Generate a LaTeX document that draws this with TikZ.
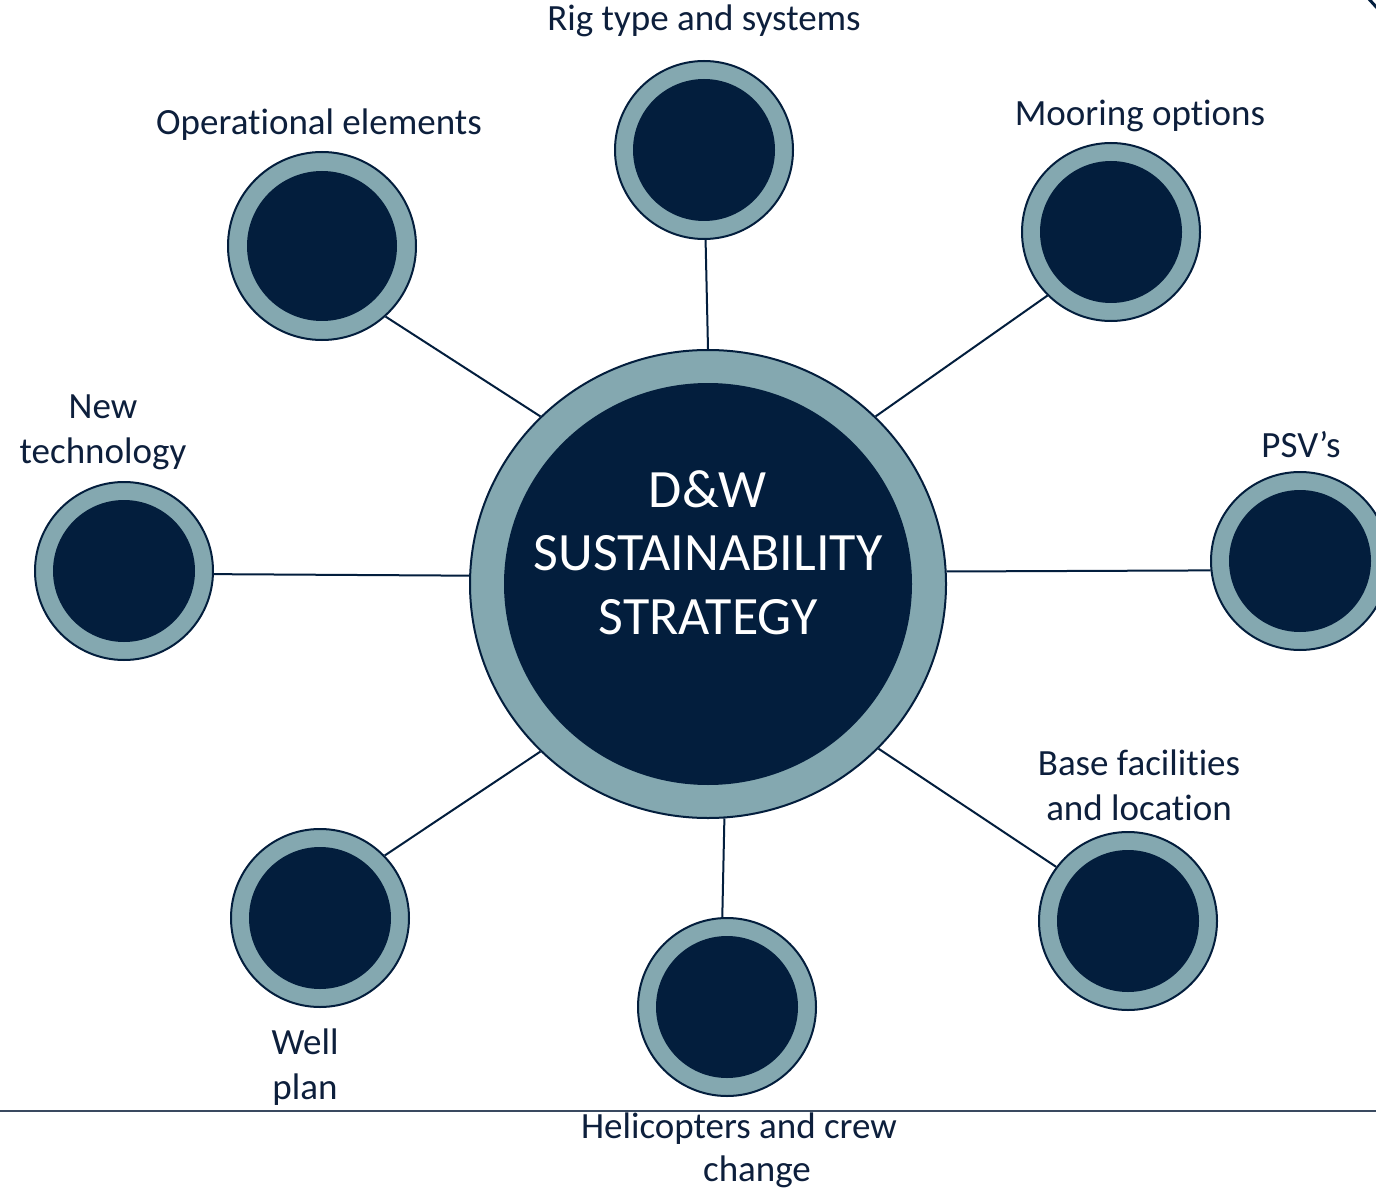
\documentclass[tikz,border=0pt]{standalone}
\usepackage{fontspec}
\setmainfont{Carlito}[Ligatures=NoCommon]
\usetikzlibrary{shapes.geometric}
\definecolor{navyc}{HTML}{031E3D}
\definecolor{ringc}{HTML}{84A8B0}
\definecolor{txtc}{HTML}{0D1F3C}
\definecolor{rulec}{HTML}{3A4A60}
\begin{document}
\begin{tikzpicture}[x=1pt,y=-1pt,
  hub/.style={circle, fill=ringc, draw=navyc, line width=2pt, minimum size=178pt, inner sep=0pt,
    path picture={\fill[navyc] (path picture bounding box.center) circle (71pt);}},
  bighub/.style={circle, fill=ringc, draw=navyc, line width=2pt, minimum size=188pt, inner sep=0pt,
    path picture={\fill[navyc] (path picture bounding box.center) circle (75pt);}},
  lbl/.style={font=\fontsize{37}{45}\selectfont, text=txtc, inner sep=0pt, anchor=base},
  ttl/.style={font=\fontsize{54}{64}\selectfont, text=white, inner sep=0pt, anchor=base},
  link/.style={draw=navyc, line width=2pt}]
\clip (0,0) rectangle (1376,1190);
\fill[white] (0,0) rectangle (1376,1190);

% core
\node[ellipse, fill=ringc, draw=navyc, line width=2pt, minimum width=476pt, minimum height=468pt, inner sep=0pt,
  path picture={\fill[navyc] (path picture bounding box.center) ellipse [x radius=204pt, y radius=201pt];}]
  (core) at (708,584) {};
\node[ttl] (t1) at (708,507) {D\&W};
\node[ttl] (t2) at (708,570) {SUSTAINABILITY};
\node[ttl] (t3) at (708,634) {STRATEGY};

% satellites
\node[hub] (rig) at (704,150) {};
\node[bighub] (op) at (322,246) {};
\node[hub] (moor) at (1111,232) {};
\node[hub] (newt) at (124,571) {};
\node[hub] (psv) at (1300,561) {};
\node[hub] (base) at (1128,921) {};
\node[hub] (well) at (320,918) {};
\node[hub] (heli) at (727,1007) {};

% links
\draw[link] (rig.-89) -- (core.90);
\draw[link] (op.-48) -- (core.135);
\draw[link] (moor.-135) -- (core.45);
\draw[link] (newt.-2) -- (core.178);
\draw[link] (core.3) -- (psv.186);
\draw[link] (core.-44) -- (base.143);
\draw[link] (well.44) -- (core.-135);
\draw[link] (core.-86) -- (heli.93);

% labels
\node[lbl] (lrig) at (704,31) {Rig type and systems};
\node[lbl] (lop) at (319,135) {Operational elements};
\node[lbl] (lmoor) at (1140,126) {Mooring options};
\node[lbl] (lnew1) at (103,418) {New};
\node[lbl] (lnew2) at (103,463) {technology};
\node[lbl] (lpsv) at (1301,457) {PSV’s};
\node[lbl] (lbase1) at (1139,775) {Base facilities};
\node[lbl] (lbase2) at (1139,820) {and location};
\node[lbl] (lwell1) at (305,1054) {Well};
\node[lbl] (lwell2) at (305,1099) {plan};
\node[lbl] (lheli1) at (739,1138) {Helicopters and crew};
\node[lbl] (lheli2) at (757,1181) {change};

% bottom rule and corner mark
\draw[rulec, line width=1.5pt] (0,1111) -- (1376,1111);
\draw[navyc, line width=3pt] (1368,-2) -- (1378,9);
\end{tikzpicture}
\end{document}
